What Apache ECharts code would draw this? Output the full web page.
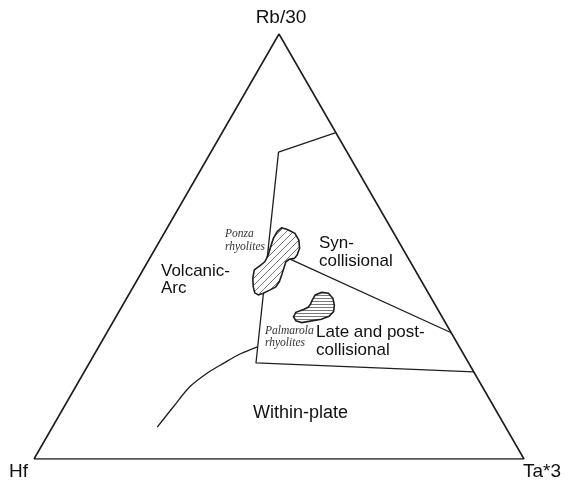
<!DOCTYPE html>
<html>
<head>
<meta charset="utf-8">
<script src="https://cdn.jsdelivr.net/npm/echarts@6/dist/echarts.min.js"></script>
<style>
  html, body { margin: 0; padding: 0; background: #fff; }
  #chart { width: 568px; height: 484px; }
</style>
</head>
<body>
<div id="chart"></div>
<script>
  // 三角图的点: [Rb/30 %, Ta*3 %], Hf % = 100 - 两者之和
  const triangle = [[0, 0], [0, 100], [100, 0], [0, 0]]
  const upperBoundary = [[76.8, 23.2], [72.2, 13.8], [22.6, 34.0], [20.5, 79.5]]
  const synBoundary = [[49.4, 23.1], [29.7, 70.3]]
  const withinPlateCurve = [[7.5, 21.4], [12.3, 22.3], [17.0, 23.3], [20.4, 25.4], [22.5, 27.4], [24.7, 29.7], [26.4, 32.4]]
  const ponza = [
    [54.4, 23.3], [54.0, 24.7], [53.1, 26.7], [51.5, 28.3], [49.6, 29.4], [48.0, 29.7], [47.2, 29.5],
    [47.0, 28.6], [46.4, 28.2], [45.1, 28.5], [43.3, 28.9], [41.7, 29.2], [40.5, 29.1], [39.8, 28.3],
    [39.0, 27.3], [38.6, 26.5], [39.1, 25.5], [40.5, 24.5], [42.5, 23.4], [44.5, 22.7], [45.4, 23.3],
    [46.4, 23.9], [48.0, 23.8], [49.6, 23.4], [51.9, 22.9], [53.5, 22.9]
  ]
  const palmarola = [
    [37.2, 38.1], [38.6, 38.1], [39.2, 39.1], [39.0, 40.6], [37.8, 42.1], [36.2, 43.2], [34.7, 43.8],
    [33.6, 43.4], [32.9, 42.2], [32.5, 40.4], [32.1, 38.6], [32.5, 37.2], [33.5, 36.2], [34.5, 36.2],
    [35.2, 37.4], [35.7, 38.1], [36.5, 38.2]
  ]

  // 三元坐标 -> 直角坐标 (Hf 左下, Ta*3 右下, Rb/30 顶点)
  function toXY (p) {
    let rb = p[0] / 100
    let ta = p[1] / 100
    return [ta + rb / 2, rb]
  }

  // 阴影填充 (白底 + 细线)
  function hatch (type) {
    let c = document.createElement('canvas')
    if (type === 'diag') {
      c.width = 7
      c.height = 7
    } else {
      c.width = 4
      c.height = 3
    }
    let ctx = c.getContext('2d')
    ctx.fillStyle = '#fff'
    ctx.fillRect(0, 0, c.width, c.height)
    ctx.strokeStyle = '#555'
    ctx.lineWidth = 0.8
    ctx.beginPath()
    if (type === 'diag') {
      ctx.moveTo(-1, 8); ctx.lineTo(8, -1)
      ctx.moveTo(-1, 1); ctx.lineTo(1, -1)
      ctx.moveTo(6, 8); ctx.lineTo(8, 6)
    } else {
      ctx.moveTo(0, 1.5); ctx.lineTo(4, 1.5)
    }
    ctx.stroke()
    return c
  }

  function lineSeries (pts, width, smooth) {
    return {
      type: 'line',
      z: 2,
      data: pts.map(toXY),
      symbol: 'none',
      silent: true,
      smooth: smooth || false,
      lineStyle: { color: '#1e1e1e', width: width || 1.3 }
    }
  }

  function blobSeries (pts, pattern) {
    return {
      type: 'custom',
      z: 10,
      silent: true,
      data: [0],
      renderItem: function (params, api) {
        return {
          type: 'polygon',
          z2: 10,
          shape: { points: pts.map(function (p) { return api.coord(toXY(p)) }) },
          style: {
            fill: { image: pattern, repeat: 'repeat' },
            stroke: '#1e1e1e',
            lineWidth: 1.6
          }
        }
      }
    }
  }

  let sans = '"Liberation Sans", Arial, sans-serif'
  let serif = '"Liberation Serif", "Times New Roman", serif'

  function label (text, x, y, size, opts) {
    opts = opts || {}
    return {
      type: 'text',
      x: x,
      y: y,
      z: 20,
      silent: true,
      style: {
        text: text,
        fill: opts.color || '#111',
        font: (opts.italic ? 'italic ' : '') + size + 'px ' + (opts.italic ? serif : sans),
        lineHeight: opts.lineHeight || size,
        align: opts.align || 'left',
        verticalAlign: opts.valign || 'top'
      }
    }
  }

  let chart = echarts.init(document.getElementById('chart'))
  chart.setOption({
    animation: false,
    grid: { left: 34, right: 44, top: 34, bottom: 25 },
    xAxis: { type: 'value', min: 0, max: 1, show: false },
    yAxis: { type: 'value', min: 0, max: 1, show: false },
    series: [
      lineSeries(triangle, 1.6),
      lineSeries(upperBoundary),
      lineSeries(synBoundary),
      lineSeries(withinPlateCurve, 1.3, 0.3),
      blobSeries(ponza, hatch('diag')),
      blobSeries(palmarola, hatch('horiz'))
    ],
    graphic: [
      label('Rb/30', 281, 18, 19, { align: 'center', valign: 'middle' }),
      label('Hf', 9, 472, 19, { valign: 'middle' }),
      label('Ta*3', 523, 472, 19, { valign: 'middle' }),
      label('Volcanic-\nArc', 161, 263, 17, { lineHeight: 17 }),
      label('Syn-\ncollisional', 319, 234, 17, { lineHeight: 18 }),
      label('Late and post-\ncollisional', 316, 323, 17, { lineHeight: 18 }),
      label('Within-plate', 253, 413, 18, { valign: 'middle' }),
      label('Ponza\nrhyolites', 225, 227, 11.5, { italic: true, color: '#333', lineHeight: 13 }),
      label('Palmarola\nrhyolites', 265, 325, 11.5, { italic: true, color: '#333', lineHeight: 12 })
    ]
  })
</script>
</body>
</html>
